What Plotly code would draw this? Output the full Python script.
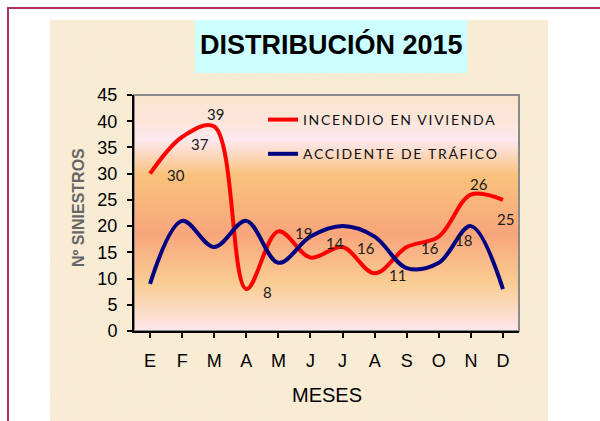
import base64
import plotly.graph_objects as go

# Monthly counts, 2015
months = ["E", "F", "M", "A", "M", "J", "J", "A", "S", "O", "N", "D"]
incendio = [30, 37, 39, 8, 19, 14, 16, 11, 16, 18, 26, 25]
trafico = [9, 21, 16, 21, 13, 18, 20, 18, 12, 13, 20, 8]

name_incendio = "INCENDIO EN VIVIENDA"
name_trafico = "ACCIDENTE DE TRÁFICO"
title_text = "DISTRIBUCIÓN 2015"
x_title = "MESES"
y_title = "Nº SINIESTROS"

# Plot-area geometry in pixels (page is 600 x 421)
W, H = 600, 421
L, R, T, B = 134, 519, 95, 331


def px(x):
    return (x - L) / (R - L)


def py(y):
    return (B - y) / (B - T)


def svg_uri(svg):
    return "data:image/svg+xml;base64," + base64.b64encode(svg.encode()).decode()


def spaced(text):
    # legend entries are drawn with a little extra tracking
    return f"<span style='letter-spacing:1.7px'>{text}</span>"


# Parchment-coloured panel behind the whole chart
panel_svg = """<svg xmlns='http://www.w3.org/2000/svg' width='498' height='399' viewBox='0 0 498 399' preserveAspectRatio='none'>
<filter id='n'><feTurbulence type='fractalNoise' baseFrequency='0.035' numOctaves='3' seed='4'/>
<feColorMatrix values='0 0 0 0 0.93  0 0 0 0 0.80  0 0 0 0 0.62  0 0 0 1.1 -0.35'/></filter>
<rect width='498' height='399' fill='#f9ecd5'/>
<rect width='498' height='399' filter='url(#n)' opacity='0.45'/>
</svg>"""

# Vertical colour wash inside the plot area
grad_svg = """<svg xmlns='http://www.w3.org/2000/svg' width='385' height='236' viewBox='0 0 385 236' preserveAspectRatio='none'>
<defs><linearGradient id='g' x1='0' y1='0' x2='0' y2='1'>
<stop offset='0' stop-color='#fbe4cc'/>
<stop offset='0.12' stop-color='#fce6dc'/>
<stop offset='0.19' stop-color='#fde8ef'/>
<stop offset='0.34' stop-color='#f9c27c'/>
<stop offset='0.59' stop-color='#f8a67c'/>
<stop offset='0.80' stop-color='#f9cd93'/>
<stop offset='1' stop-color='#fde6ec'/>
</linearGradient></defs>
<rect width='385' height='236' fill='url(#g)'/>
</svg>"""

fig = go.Figure()

fig.add_trace(go.Scatter(
    x=list(range(len(months))), y=incendio, name=spaced(name_incendio), mode="lines",
    line=dict(color="#ff0000", width=4, shape="spline", smoothing=1.0),
    legendgroup="a", hoverinfo="skip",
))
fig.add_trace(go.Scatter(
    x=list(range(len(months))), y=trafico, name=spaced(name_trafico), mode="lines",
    line=dict(color="#000080", width=4, shape="spline", smoothing=1.0),
    legendgroup="b", hoverinfo="skip",
))

# Value labels for the fire series, nudged off the line (pixel offsets)
label_offsets = [(26, -1), (18, -7), (1, 12), (21, -3), (25, -2), (25, 15),
                 (23, -1), (23, -2), (23, -1), (25, -3), (8, 11), (3, -19)]
annotations = []
for i, (v, (dx, dy)) in enumerate(zip(incendio, label_offsets)):
    annotations.append(dict(
        x=i, y=v, xref="x", yref="y", text=str(v), showarrow=False,
        xshift=dx, yshift=dy, font=dict(family="Lato", size=15, color="#1a1a1a"),
    ))

# Title inside its cyan box
annotations.append(dict(
    x=px(331), y=py(45), xref="paper", yref="paper", text=f"<b>{title_text}</b>",
    showarrow=False, xanchor="center", yanchor="middle",
    font=dict(family="Liberation Sans", size=27, color="#000000"),
))
# Rotated y-axis title
annotations.append(dict(
    x=px(78), y=py(208), xref="paper", yref="paper", text=f"<b>{y_title}</b>",
    showarrow=False, textangle=-90, xanchor="center", yanchor="middle",
    font=dict(family="Liberation Sans", size=16, color="#666666"),
))
# x-axis title
annotations.append(dict(
    x=px(327), y=py(395), xref="paper", yref="paper", text=x_title,
    showarrow=False, xanchor="center", yanchor="middle",
    font=dict(family="Liberation Sans", size=20, color="#000000"),
))

images = [
    dict(source=svg_uri(panel_svg), xref="paper", yref="paper",
         x=px(50), y=py(20), sizex=(548 - 50) / (R - L), sizey=(421 - 20) / (B - T),
         xanchor="left", yanchor="top", sizing="stretch", layer="below"),
    dict(source=svg_uri(grad_svg), xref="paper", yref="paper",
         x=0, y=1, sizex=1, sizey=1,
         xanchor="left", yanchor="top", sizing="stretch", layer="below"),
]

shapes = [
    # cyan title box
    dict(type="rect", xref="paper", yref="paper", x0=px(195), x1=px(467),
         y0=py(73), y1=py(20), fillcolor="#ccffff", line=dict(width=0), layer="below"),
    # grey frame of the plot area
    dict(type="rect", xref="paper", yref="paper", x0=0, x1=1, y0=0, y1=1,
         line=dict(color="#8a8a8a", width=2), fillcolor="rgba(0,0,0,0)", layer="below"),
    # page border
    dict(type="line", xref="paper", yref="paper", x0=px(8), x1=px(8),
         y0=py(7), y1=py(430), line=dict(color="#b0306a", width=2)),
    dict(type="line", xref="paper", yref="paper", x0=px(7), x1=px(610),
         y0=py(8), y1=py(8), line=dict(color="#b0306a", width=2)),
]

fig.update_layout(
    width=W, height=H,
    margin=dict(l=L, r=W - R, t=T, b=H - B, pad=0),
    paper_bgcolor="#ffffff",
    plot_bgcolor="rgba(0,0,0,0)",
    showlegend=True,
    legend=dict(
        x=px(263), y=py(104), xanchor="left", yanchor="top",
        bgcolor="rgba(0,0,0,0)", borderwidth=0,
        font=dict(family="Lato", size=14, color="#111111"),
        tracegroupgap=13, itemwidth=30,
    ),
    xaxis=dict(
        tickmode="array", tickvals=list(range(len(months))), ticktext=months,
        range=[-0.5, len(months) - 0.5], showgrid=False, zeroline=False,
        showline=True, linecolor="#000000", linewidth=2,
        ticks="outside", tickson="boundaries", ticklen=5, tickwidth=2, tickcolor="#000000",
        tickfont=dict(family="Liberation Sans", size=18, color="#000000"),
        ticklabelstandoff=7,
    ),
    yaxis=dict(
        range=[0, 45], dtick=5, tick0=0, showgrid=False, zeroline=False,
        showline=True, linecolor="#000000", linewidth=2,
        ticks="outside", ticklen=5, tickwidth=2, tickcolor="#000000",
        tickfont=dict(family="Liberation Sans", size=18, color="#000000"),
        ticklabelstandoff=6,
    ),
    annotations=annotations,
    images=images,
    shapes=shapes,
)

fig.write_html("out.html")
